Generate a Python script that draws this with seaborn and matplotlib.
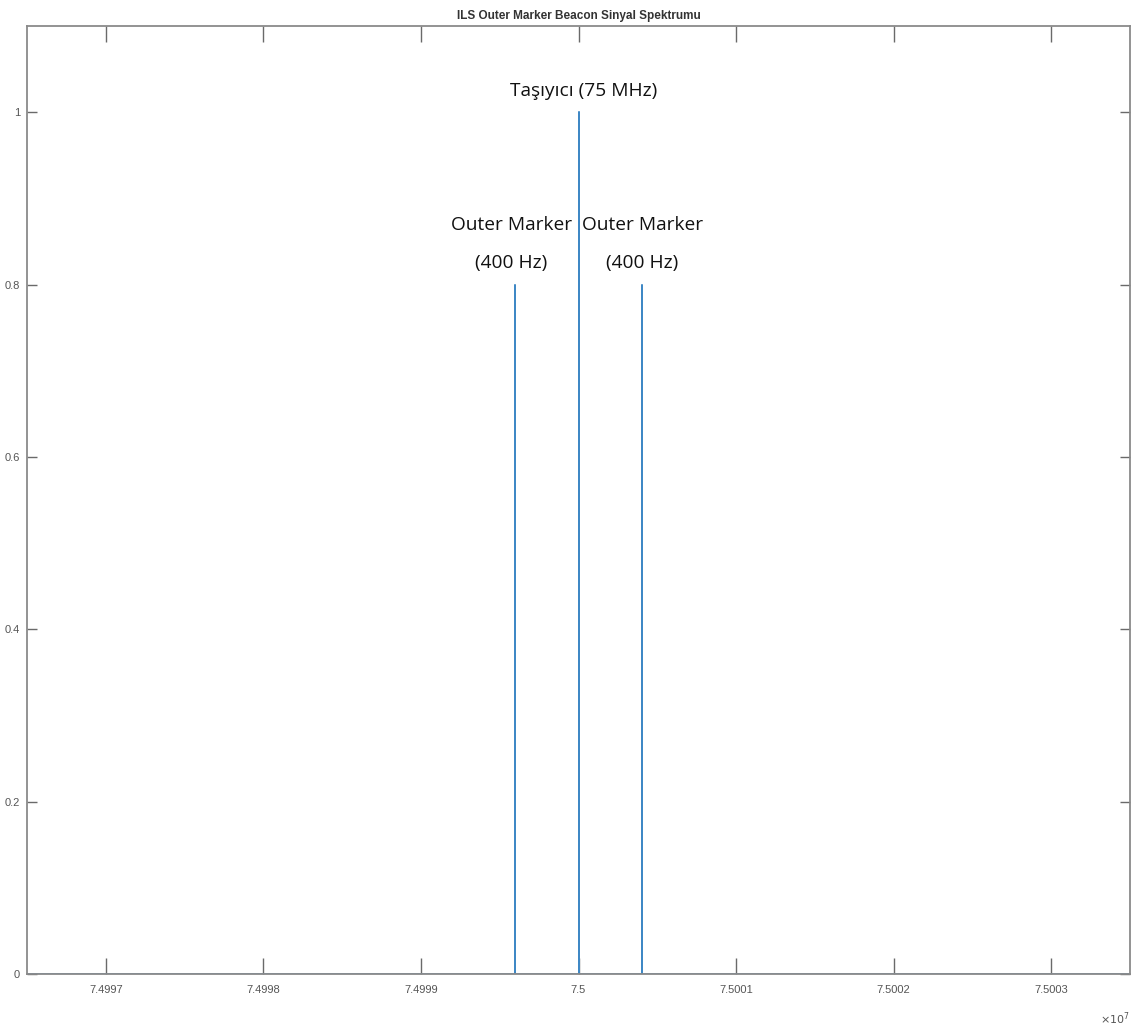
import numpy as np
import pandas as pd
import matplotlib
matplotlib.use("Agg")
import matplotlib.pyplot as plt
import seaborn as sns
from matplotlib.ticker import FuncFormatter, FixedLocator

# ---- data ----
carrier_hz = 75_000_000
spike_freqs = [74_999_600, 75_000_000, 75_000_400]
spike_amps = [0.8, 1.0, 0.8]
x_range = [74_996_500, 75_003_500]
x_ticks = [74_997_000, 74_998_000, 74_999_000, 75_000_000, 75_001_000, 75_002_000, 75_003_000]
y_ticks = [0, 0.2, 0.4, 0.6, 0.8, 1.0]
labels = ["Outer Marker\n(400 Hz)", "Taşıyıcı (75 MHz)", "Outer Marker\n(400 Hz)"]
title = "ILS Outer Marker Beacon Sinyal Spektrumu"

# build spectrum trace (baseline with spikes)
fx, fy = [x_range[0]], [0.0]
for f, a in zip(spike_freqs, spike_amps):
    fx += [f, f, f]
    fy += [0.0, a, 0.0]
fx.append(x_range[1]); fy.append(0.0)
df = pd.DataFrame({"freq": fx, "amp": fy})

sns.set_theme(style="white")
plt.rcParams["font.family"] = ["Liberation Sans", "DejaVu Sans"]

fig = plt.figure(figsize=(11.33, 10.30), dpi=100)
ax = fig.add_axes([27/1133, 1 - 974/1030, (1130 - 27)/1133, (974 - 26)/1030])

sns.lineplot(data=df, x="freq", y="amp", sort=False, estimator=None,
             color="#3f88c5", linewidth=1.1, ax=ax)

ax.set_xlim(*x_range)
ax.set_ylim(0, 1.1)
ax.xaxis.set_major_locator(FixedLocator(x_ticks))
ax.yaxis.set_major_locator(FixedLocator(y_ticks))
ax.xaxis.set_major_formatter(FuncFormatter(lambda v, p: f"{v/1e7:.5g}"))
ax.yaxis.set_major_formatter(FuncFormatter(lambda v, p: f"{v:g}"))
ax.set_xlabel("")
ax.set_ylabel("")

for s in ax.spines.values():
    s.set_color("#8a8a8a")
    s.set_linewidth(1.3)
ax.tick_params(axis="x", direction="in", length=11.5, width=1, color="#6a6a6a",
               top=True, bottom=True, labelsize=8, labelcolor="#555555", pad=8)
ax.tick_params(axis="y", direction="in", length=7, width=1, color="#6a6a6a",
               left=True, right=True, labelsize=8, labelcolor="#555555", pad=5)

ax.set_title(title, fontsize=8.5, fontweight="bold", color="#333333", pad=5)

ax.text(1.0, -0.047, r"$\times10^7$", transform=ax.transAxes, ha="right", va="center",
        fontsize=8, color="#555555")

ann_font = ["Open Sans", "DejaVu Sans"]
ann_x_shift = [-4, 5, 1]
ann_y = [0.847, 1.024, 0.847]
for f, lab, y, dx in zip(spike_freqs, labels, ann_y, ann_x_shift):
    ax.annotate(lab, xy=(f, y), xytext=(dx, 0), textcoords="offset pixels",
                ha="center", va="center", fontsize=13.8, family=ann_font,
                color="#111111", linespacing=2.45)

fig.savefig("out.png", dpi=100, facecolor="white")
